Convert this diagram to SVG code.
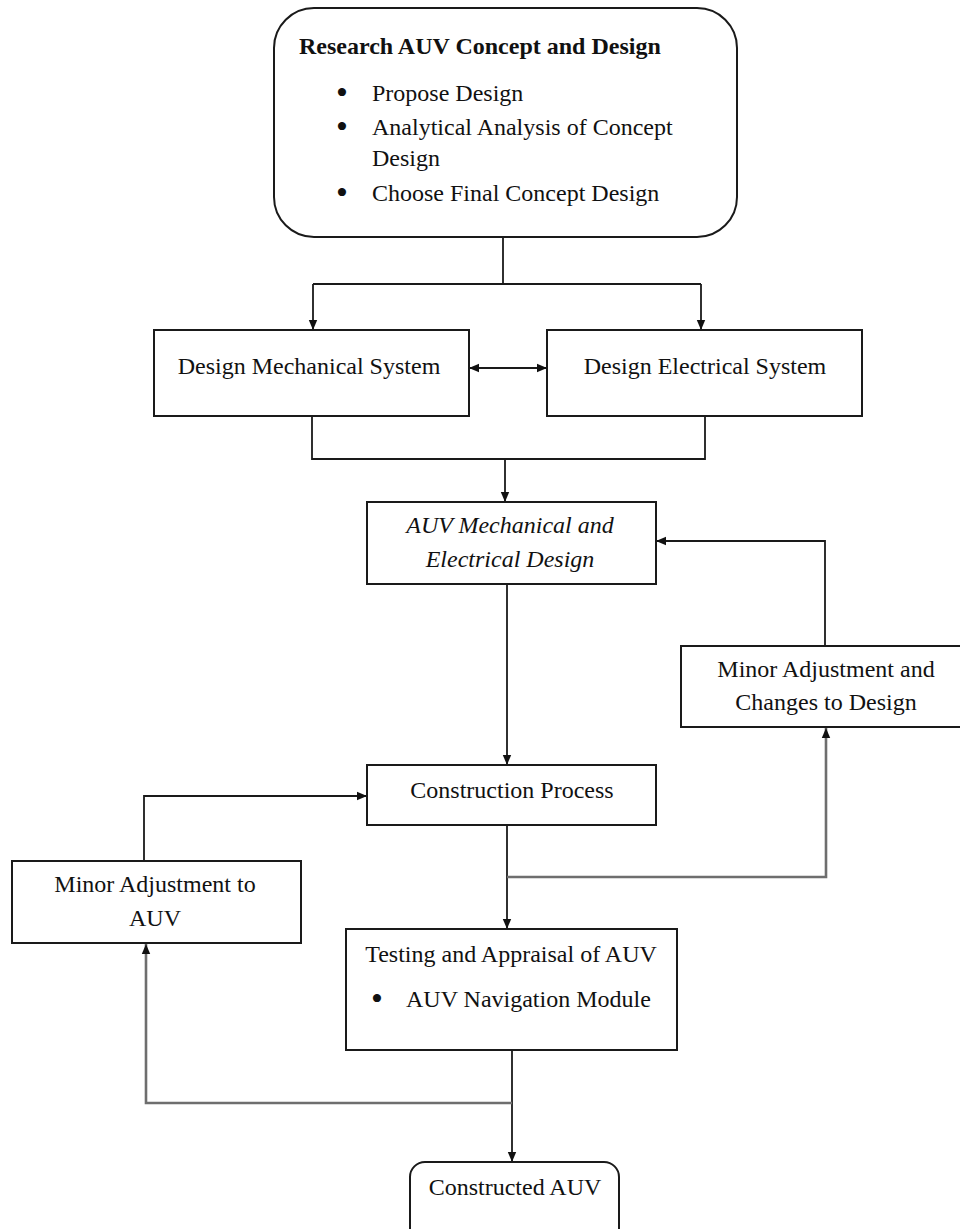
<svg xmlns="http://www.w3.org/2000/svg" width="960" height="1229" viewBox="0 0 960 1229">
<style>
  .box { fill: #ffffff; stroke: #1a1a1a; stroke-width: 2; }
  .t { font-family: "Liberation Serif", "Times New Roman", serif; font-size: 24px; fill: #111111; }
  .c { text-anchor: middle; }
  .b { font-weight: bold; }
  .i { font-style: italic; }
  .bul { font-family: "Liberation Serif", "Times New Roman", serif; font-size: 34px; fill: #111111; text-anchor: middle; }
  .ln { fill: none; stroke: #1a1a1a; stroke-width: 1.8; }
  .gr { fill: none; stroke: #6e6e6e; stroke-width: 2.6; }
</style>
<defs>
  <marker id="ah" markerUnits="userSpaceOnUse" markerWidth="10" markerHeight="10" viewBox="0 0 10 10" refX="10" refY="5" orient="auto-start-reverse">
    <path d="M0,0.8 L10,5 L0,9.2 z" fill="#111111"/>
  </marker>
</defs>

<g id="connectors">
  <path class="ln" d="M503,237 V284"/>
  <path class="ln" d="M313,284 H701"/>
  <path class="ln" d="M313,284 V330" marker-end="url(#ah)"/>
  <path class="ln" d="M701,284 V330" marker-end="url(#ah)"/>
  <path class="ln" d="M469,368 H547" marker-start="url(#ah)" marker-end="url(#ah)"/>
  <path class="ln" d="M312,416 V459 H705 V416"/>
  <path class="ln" d="M505,459 V502" marker-end="url(#ah)"/>
  <path class="ln" d="M507,584 V765" marker-end="url(#ah)"/>
  <path class="ln" d="M507,825 V929" marker-end="url(#ah)"/>
  <path class="gr" d="M507,877 H826 V728" marker-end="url(#ah)"/>
  <path class="ln" d="M825,646 V541 H656" marker-end="url(#ah)"/>
  <path class="ln" d="M512,1050 V1162" marker-end="url(#ah)"/>
  <path class="gr" d="M512,1103 H146 V944" marker-end="url(#ah)"/>
  <path class="ln" d="M144,861 V796 H367" marker-end="url(#ah)"/>
</g>

<g id="research">
  <rect class="box" x="274" y="8" width="463" height="229" rx="40" ry="40"/>
  <text class="t b" x="299" y="54">Research AUV Concept and Design</text>
  <text class="bul" x="342" y="104">•</text>
  <text class="t" x="372" y="101">Propose Design</text>
  <text class="bul" x="342" y="138">•</text>
  <text class="t" x="372" y="135">Analytical Analysis of Concept</text>
  <text class="t" x="372" y="166">Design</text>
  <text class="bul" x="342" y="204">•</text>
  <text class="t" x="372" y="201">Choose Final Concept Design</text>
</g>

<g id="mech">
  <rect class="box" x="154" y="330" width="315" height="86"/>
  <text class="t c" x="309" y="374">Design Mechanical System</text>
</g>

<g id="elec">
  <rect class="box" x="547" y="330" width="315" height="86"/>
  <text class="t c" x="705" y="374">Design Electrical System</text>
</g>

<g id="auvdesign">
  <rect class="box" x="367" y="502" width="289" height="82"/>
  <text class="t c i" x="510" y="533">AUV Mechanical and</text>
  <text class="t c i" x="510" y="567">Electrical Design</text>
</g>

<g id="changes">
  <rect class="box" x="681" y="646" width="284" height="81"/>
  <text class="t c" x="826" y="677">Minor Adjustment and</text>
  <text class="t c" x="826" y="710">Changes to Design</text>
</g>

<g id="construction">
  <rect class="box" x="367" y="765" width="289" height="60"/>
  <text class="t c" x="512" y="798">Construction Process</text>
</g>

<g id="minorauv">
  <rect class="box" x="12" y="861" width="289" height="82"/>
  <text class="t c" x="155" y="892">Minor Adjustment to</text>
  <text class="t c" x="155" y="926">AUV</text>
</g>

<g id="testing">
  <rect class="box" x="346" y="929" width="331" height="121"/>
  <text class="t c" x="511" y="962">Testing and Appraisal of AUV</text>
  <text class="bul" x="377" y="1010">•</text>
  <text class="t" x="406" y="1007">AUV Navigation Module</text>
</g>

<g id="constructed">
  <rect class="box" x="410" y="1162" width="209" height="90" rx="15" ry="15"/>
  <text class="t c" x="515" y="1195">Constructed AUV</text>
</g>
</svg>
